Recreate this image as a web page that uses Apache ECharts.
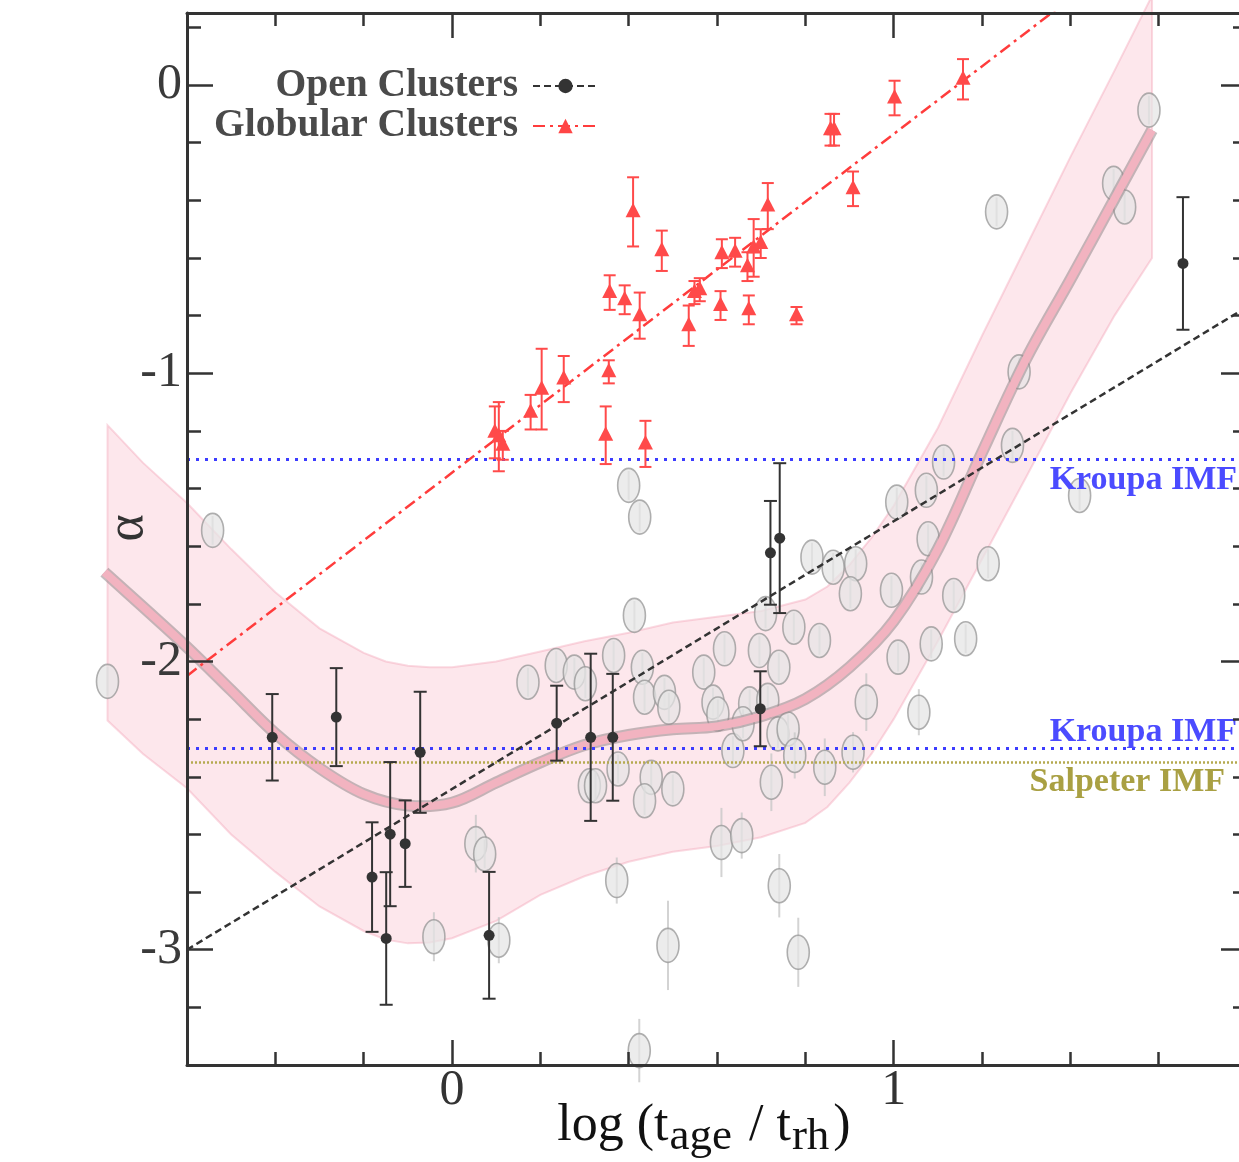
<!DOCTYPE html>
<html><head><meta charset="utf-8">
<script src="https://cdn.jsdelivr.net/npm/echarts@6/dist/echarts.min.js"></script>
<style>html,body{margin:0;padding:0;background:#fff}#c{width:1239px;height:1162px}</style>
</head><body><div id="c"></div>
<script>
// ---------- axes ----------
const xRange = [-0.6, 1.8];
const yRange = [-3.4, 0.25];
const xMajorTicks = [0, 1];
const xMinorTicks = [-0.4, -0.2, 0.2, 0.4, 0.6, 0.8, 1.2, 1.4, 1.6];
const yMajorTicks = [-3, -2, -1, 0];
const yMinorTicks = [-3.2, -2.8, -2.6, -2.4, -2.2, -1.8, -1.6, -1.4, -1.2, -0.8, -0.6, -0.4, -0.2, 0.2];

// ---------- globular clusters (x, alpha, error) ----------
const globX = [0.097, 0.106, 0.115, 0.178, 0.203, 0.253, 0.348, 0.355, 0.438, 0.357, 0.391, 0.425, 0.410, 0.475, 0.536, 0.549, 0.561, 0.608, 0.611, 0.641, 0.669, 0.672, 0.683, 0.699, 0.715, 0.780, 0.857, 0.865, 0.908, 1.002, 1.157];
const globY = [-1.205, -1.22, -1.25, -1.135, -1.055, -1.02, -1.215, -0.995, -1.245, -0.72, -0.745, -0.80, -0.44, -0.575, -0.835, -0.72, -0.71, -0.765, -0.585, -0.58, -0.63, -0.78, -0.565, -0.55, -0.42, -0.80, -0.155, -0.155, -0.36, -0.045, 0.02];
const globErr = [0.09, 0.12, 0.05, 0.06, 0.14, 0.08, 0.10, 0.04, 0.08, 0.06, 0.05, 0.08, 0.12, 0.07, 0.07, 0.04, 0.04, 0.05, 0.05, 0.05, 0.05, 0.05, 0.10, 0.05, 0.08, 0.03, 0.055, 0.055, 0.06, 0.06, 0.07];

// ---------- open clusters ----------
const openX = [-0.407, -0.262, -0.181, -0.149, -0.140, -0.106, -0.072, 0.084, 0.237, 0.314, 0.364, 0.698, 0.721, 0.742, 1.655];
const openY = [-2.263, -2.193, -2.748, -2.961, -2.599, -2.632, -2.315, -2.95, -2.214, -2.263, -2.263, -2.164, -1.623, -1.572, -0.619];
const openErr = [0.15, 0.17, 0.19, 0.23, 0.25, 0.15, 0.21, 0.22, 0.13, 0.29, 0.22, 0.13, 0.18, 0.26, 0.23];

// ---------- simulated clusters (grey ellipses) ----------
const simX = [-0.780, -0.542, -0.041, 0.054, 0.074, 0.106, 0.172, 0.236, 0.277, 0.302, 0.311, 0.325, 0.366, 0.376, 0.373, 0.400, 0.425, 0.413, 0.431, 0.436, 0.451, 0.436, 0.424, 0.481, 0.491, 0.500, 0.489, 0.570, 0.617, 0.591, 0.602, 0.610, 0.656, 0.636, 0.674, 0.659, 0.696, 0.710, 0.715, 0.740, 0.738, 0.761, 0.723, 0.741, 0.784, 0.774, 0.776, 0.832, 0.844, 0.815, 0.863, 0.914, 0.902, 0.908, 0.938, 0.995, 1.007, 1.010, 1.057, 1.074, 1.078, 1.063, 1.085, 1.113, 1.136, 1.163, 1.214, 1.269, 1.284, 1.421, 1.233, 1.498, 1.523, 1.578];
const simY = [-2.069, -1.545, -2.955, -2.632, -2.668, -2.967, -2.072, -2.014, -2.037, -2.077, -2.431, -2.431, -1.979, -2.373, -2.760, -1.389, -1.499, -1.840, -2.020, -2.124, -2.402, -2.483, -3.350, -2.107, -2.159, -2.442, -2.985, -2.037, -1.956, -2.141, -2.182, -2.628, -2.604, -2.309, -2.147, -2.216, -1.962, -1.834, -2.135, -2.020, -2.251, -2.234, -2.419, -2.778, -3.009, -1.881, -2.326, -1.927, -2.367, -1.638, -1.673, -1.661, -1.765, -2.315, -2.141, -1.753, -1.447, -1.985, -2.176, -1.406, -1.574, -1.707, -1.939, -1.308, -1.771, -1.921, -1.661, -1.250, -0.995, -1.424, -0.440, -0.341, -0.423, -0.087];
const simErr = [0.05, 0.05, 0.085, 0.10, 0.05, 0.08, 0.05, 0.05, 0.05, 0.05, 0.05, 0.05, 0.05, 0.05, 0.08, 0.05, 0.05, 0.05, 0.05, 0.05, 0.05, 0.05, 0.11, 0.05, 0.05, 0.05, 0.155, 0.05, 0.05, 0.05, 0.05, 0.12, 0.08, 0.05, 0.05, 0.05, 0.05, 0.05, 0.05, 0.05, 0.05, 0.05, 0.10, 0.11, 0.12, 0.05, 0.08, 0.05, 0.10, 0.05, 0.05, 0.05, 0.05, 0.07, 0.10, 0.05, 0.05, 0.05, 0.08, 0.05, 0.05, 0.05, 0.05, 0.05, 0.05, 0.05, 0.05, 0.05, 0.05, 0.05, 0.05, 0.05, 0.05, 0.05];

// ---------- model curve and its band ----------
const curveX = [-0.787, -0.7, -0.6, -0.5, -0.4, -0.3, -0.2, -0.1, 0.0, 0.1, 0.2, 0.3, 0.4, 0.5, 0.6, 0.7, 0.8, 0.9, 1.0, 1.1, 1.2, 1.3, 1.4, 1.5, 1.585];
const curveY = [-1.69, -1.81, -1.95, -2.10, -2.25, -2.37, -2.46, -2.50, -2.49, -2.42, -2.35, -2.29, -2.255, -2.235, -2.225, -2.19, -2.13, -2.02, -1.86, -1.61, -1.275, -0.95, -0.675, -0.395, -0.156];
const bandUpX = [-0.78, -0.7, -0.6, -0.5, -0.4, -0.3, -0.2, -0.15, -0.1, -0.05, 0.0, 0.1, 0.2, 0.3, 0.4, 0.5, 0.6, 0.7, 0.8, 0.85, 0.9, 0.95, 1.0, 1.1, 1.2, 1.3, 1.4, 1.5, 1.585];
const bandUpY = [-1.18, -1.31, -1.45, -1.61, -1.76, -1.885, -1.97, -2.0, -2.015, -2.02, -2.02, -2.00, -1.965, -1.93, -1.90, -1.865, -1.845, -1.825, -1.785, -1.74, -1.665, -1.57, -1.46, -1.19, -0.87, -0.56, -0.25, 0.05, 0.31];
const bandLoX = [-0.78, -0.7, -0.6, -0.5, -0.4, -0.3, -0.2, -0.15, -0.1, -0.05, 0.0, 0.1, 0.2, 0.3, 0.4, 0.5, 0.6, 0.7, 0.8, 0.85, 0.9, 0.95, 1.0, 1.1, 1.2, 1.3, 1.4, 1.5, 1.585];
const bandLoY = [-2.205, -2.32, -2.44, -2.60, -2.73, -2.85, -2.935, -2.965, -2.978, -2.975, -2.96, -2.90, -2.81, -2.745, -2.695, -2.66, -2.64, -2.61, -2.56, -2.505, -2.42, -2.32, -2.20, -1.93, -1.645, -1.36, -1.07, -0.80, -0.60];

// ---------- linear fits ----------
const openFitX = [-0.6, 1.8];
const openFitY = [-3.0, -0.77];
const globFitX = [-0.6, 1.8];
const globFitY = [-2.05, 0.77];

// ---------- IMF reference slopes ----------
const imfNames = ['Kroupa IMF', 'Kroupa IMF', 'Salpeter IMF'];
const imfAlpha = [-1.3, -2.3, -2.35];

const SERIF = 'Liberation Serif';
const AX = '#333';

function pairs(xs, ys) { return xs.map((x, i) => [x, ys[i]]); }
function triples(xs, ys, es) { return xs.map((x, i) => [x, ys[i], es[i]]); }

function errItem(color, cap, marker) {
  return function (params, api) {
    const x = api.value(0), y = api.value(1), e = api.value(2);
    const c = api.coord([x, y]);
    const t = api.coord([x, y + e]);
    const b = api.coord([x, y - e]);
    const ls = { stroke: color, lineWidth: 2 };
    const kids = [
      { type: 'line', shape: { x1: c[0], y1: t[1], x2: c[0], y2: b[1] }, style: ls },
      { type: 'line', shape: { x1: c[0] - cap, y1: t[1], x2: c[0] + cap, y2: t[1] }, style: ls },
      { type: 'line', shape: { x1: c[0] - cap, y1: b[1], x2: c[0] + cap, y2: b[1] }, style: ls }
    ];
    if (marker === 'circle') {
      kids.push({ type: 'circle', shape: { cx: c[0], cy: c[1], r: 5.5 }, style: { fill: color } });
    } else {
      kids.push({ type: 'polygon', shape: { points: [[c[0], c[1] - 9], [c[0] - 7.5, c[1] + 5.5], [c[0] + 7.5, c[1] + 5.5]] }, style: { fill: color } });
    }
    return { type: 'group', children: kids };
  };
}

function xAxisDef(pos, ticks, len, labels, lineShow) {
  return {
    type: 'value', min: xRange[0], max: xRange[1], position: pos, gridIndex: 0, z: 20,
    axisLine: { show: lineShow, onZero: false, lineStyle: { color: AX, width: 3 } },
    axisTick: { show: true, inside: true, length: len, customValues: ticks, lineStyle: { color: AX, width: 2.5 } },
    axisLabel: labels ? { show: true, customValues: xMajorTicks, fontFamily: SERIF, fontSize: 50, color: '#333', margin: 1 } : { show: false },
    splitLine: { show: false }
  };
}
function yAxisDef(pos, ticks, len, labels, lineShow) {
  return {
    type: 'value', min: yRange[0], max: yRange[1], position: pos, gridIndex: 0, z: 20,
    axisLine: { show: lineShow, onZero: false, lineStyle: { color: AX, width: 3 } },
    axisTick: { show: true, inside: true, length: len, customValues: ticks, lineStyle: { color: AX, width: 2.5 } },
    axisLabel: labels ? { show: true, customValues: yMajorTicks, fontFamily: SERIF, fontSize: 50, color: '#3a3a3a', margin: 5 } : { show: false },
    splitLine: { show: false }
  };
}

const xMain = xAxisDef('bottom', xMajorTicks, 25, true, true);
xMain.name = '{m|log (t}{s|age}{m| / t}{s|rh}{m|)}';
xMain.nameLocation = 'middle';
xMain.nameGap = 35;
xMain.nameMoveOverlap = false;
xMain.nameTextStyle = {
  padding: [0, 26, 0, 0],
  rich: {
    m: { fontFamily: SERIF, fontSize: 52, color: '#111', lineHeight: 60, verticalAlign: 'top' },
    s: { fontFamily: SERIF, fontSize: 45, color: '#111', lineHeight: 30, verticalAlign: 'bottom', padding: [0, 4, 0, 1] }
  }
};
const yMain = yAxisDef('left', yMajorTicks, 26, true, true);

const option = {
  animation: false,
  backgroundColor: '#fff',
  textStyle: { fontFamily: SERIF },
  grid: { left: 187, top: 13, width: 1060, height: 1052, containLabel: false, outerBoundsMode: 'none' },
  legend: {
    data: ['Open Clusters', 'Globular Clusters'],
    orient: 'vertical', right: 640, top: 66, align: 'right',
    itemWidth: 65, itemHeight: 18, itemGap: 0, padding: 0, selectedMode: false,
    textStyle: { fontFamily: SERIF, fontWeight: 'bold', fontSize: 39.5, color: '#4a4a4a', padding: [0, 10, 0, 0] }
  },
  graphic: [
    { type: 'text', x: 128, y: 528, rotation: Math.PI / 2, silent: true, z: 100,
      style: { text: 'α', font: '52px "Liberation Serif"', fill: '#333', align: 'center', verticalAlign: 'middle' } }
  ],
  xAxis: [
    xMain,
    xAxisDef('bottom', xMinorTicks, 13, false, false),
    xAxisDef('top', xMajorTicks, 25, false, true),
    xAxisDef('top', xMinorTicks, 13, false, false)
  ],
  yAxis: [
    yMain,
    yAxisDef('left', yMinorTicks, 14, false, false),
    yAxisDef('right', yMajorTicks, 26, false, true),
    yAxisDef('right', yMinorTicks, 14, false, false)
  ],
  series: [
    {
      type: 'custom', name: 'band', z: 1, clip: false, silent: true,
      data: [[bandUpX[0], bandUpY[0]]],
      renderItem: function (params, api) {
        const pts = [];
        for (let i = 0; i < bandUpX.length; i++) pts.push(api.coord([bandUpX[i], bandUpY[i]]));
        for (let i = bandLoX.length - 1; i >= 0; i--) pts.push(api.coord([bandLoX[i], bandLoY[i]]));
        return { type: 'polygon', shape: { points: pts }, style: { fill: 'rgba(246,160,180,0.25)', stroke: 'rgba(242,150,172,0.35)', lineWidth: 2 } };
      }
    },
    {
      type: 'custom', name: 'models', z: 2, clip: false, silent: true,
      data: triples(simX, simY, simErr),
      renderItem: function (params, api) {
        const x = api.value(0), y = api.value(1), e = api.value(2);
        const c = api.coord([x, y]);
        const t = api.coord([x, y + e]);
        const b = api.coord([x, y - e]);
        return { type: 'group', children: [
          { type: 'line', shape: { x1: c[0], y1: t[1], x2: c[0], y2: b[1] }, style: { stroke: 'rgba(200,200,200,0.8)', lineWidth: 2 } },
          { type: 'ellipse', shape: { cx: c[0], cy: c[1], rx: 11, ry: 17 }, style: { fill: 'rgba(228,228,228,0.72)', stroke: 'rgba(150,150,150,0.75)', lineWidth: 1.6 } }
        ] };
      }
    },
    {
      type: 'custom', name: 'curve', z: 3, clip: false, silent: true,
      data: [[curveX[0], curveY[0]]],
      renderItem: function (params, api) {
        const pts = curveX.map((x, i) => api.coord([x, curveY[i]]));
        return { type: 'group', children: [
          { type: 'polyline', shape: { points: pts, smooth: 0.35 }, style: { stroke: 'rgba(150,135,138,0.55)', lineWidth: 12, fill: null, lineJoin: 'round' } },
          { type: 'polyline', shape: { points: pts, smooth: 0.35 }, style: { stroke: '#f2b3c0', lineWidth: 8, fill: null, lineJoin: 'round' } }
        ] };
      }
    },
    {
      type: 'line', name: 'IMF', z: 5, silent: true, data: [],
      markLine: {
        silent: true, symbol: ['none', 'none'], animation: false,
        data: imfAlpha.map((a, i) => {
          const salp = imfNames[i].indexOf('Salpeter') === 0;
          const col = salp ? '#a9a043' : '#4b4bff';
          const pos = i === 1 ? 'insideEndTop' : 'insideEndBottom';
          return {
            yAxis: a,
            lineStyle: salp ? { color: '#b5aa50', width: 2.5, type: [2, 2] } : { color: '#3c3cff', width: 3, type: [3, 6] },
            label: { show: true, formatter: imfNames[i], position: pos, distance: [salp ? 22 : 10, i === 1 ? -1 : 3], color: col, fontFamily: SERIF, fontWeight: 'bold', fontSize: 34 }
          };
        })
      }
    },
    {
      type: 'line', name: 'Open Clusters', z: 6, silent: true, symbol: 'circle', showSymbol: false,
      data: pairs(openFitX, openFitY),
      itemStyle: { color: '#333' },
      lineStyle: { color: '#333', width: 2.5, type: [7, 4] }
    },
    {
      type: 'custom', name: 'openPts', z: 7, clip: false, silent: true,
      data: triples(openX, openY, openErr),
      renderItem: errItem('#333', 6.5, 'circle')
    },
    {
      type: 'line', name: 'Globular Clusters', z: 8, silent: true, symbol: 'triangle', showSymbol: false,
      data: pairs(globFitX, globFitY),
      itemStyle: { color: '#ff4545' },
      lineStyle: { color: '#ff3c3c', width: 2.5, type: [12, 5, 3, 5] }
    },
    {
      type: 'custom', name: 'globPts', z: 9, clip: false, silent: true,
      data: triples(globX, globY, globErr),
      renderItem: errItem('#ff4a4a', 6, 'triangle')
    }
  ]
};

const chart = echarts.init(document.getElementById('c'), null, { renderer: 'canvas' });
chart.setOption(option);
</script>
</body></html>
